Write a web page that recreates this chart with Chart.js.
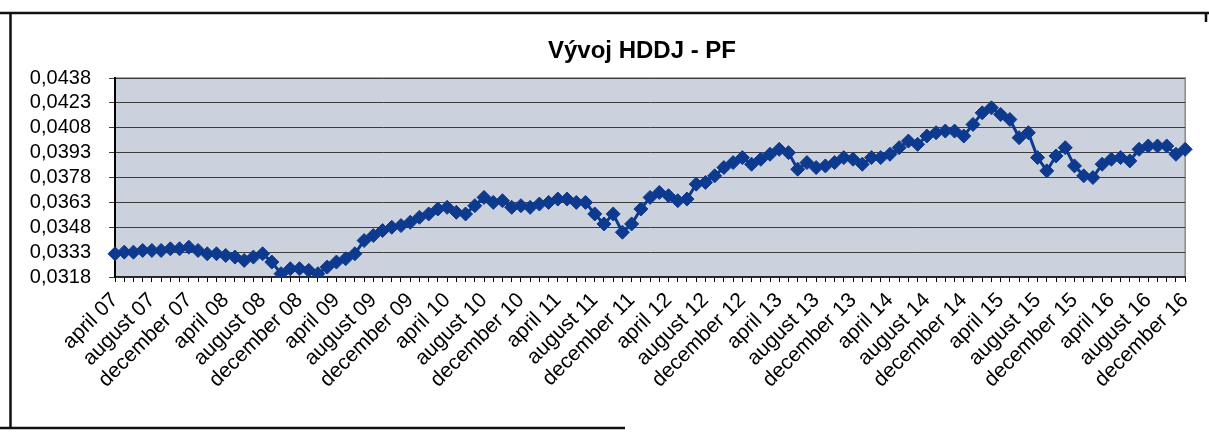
<!DOCTYPE html>
<html>
<head>
<meta charset="utf-8">
<script src="https://cdn.jsdelivr.net/npm/chart.js@4.4.1/dist/chart.umd.min.js"></script>
<style>
html,body{margin:0;padding:0;background:#fff;overflow:hidden}
#wrap{position:relative;width:1209px;height:436px}
</style>
</head>
<body>
<div id="wrap"><canvas id="c" width="1209" height="436"></canvas></div>
<script>
// ---- data ----
const chartTitle = 'Vývoj HDDJ - PF';
const monthNames = ['january','february','march','april','may','june','july','august','september','october','november','december'];
const firstMonthIndex = 3;   // april
const firstYear = 7;         // 2007
const hddj = [
  0.0332,0.0333,0.0333,0.0334,0.0334,0.0334,0.0335,0.0335,0.0336,0.0334,
  0.0332,0.0332,0.0331,0.0330,0.0328,0.0330,0.0332,0.0327,0.0320,0.0323,
  0.0323,0.0322,0.0320,0.0324,0.0327,0.0329,0.0332,0.0340,0.0343,0.0346,
  0.0348,0.0349,0.0351,0.0354,0.0356,0.0359,0.0360,0.0357,0.0356,0.0361,
  0.0366,0.0363,0.0364,0.0360,0.0361,0.0360,0.0362,0.0363,0.0365,0.0365,
  0.0363,0.0363,0.0356,0.0350,0.0356,0.0345,0.0350,0.0359,0.0366,0.0369,
  0.0367,0.0364,0.0365,0.0374,0.0375,0.0379,0.0384,0.0387,0.0390,0.0386,
  0.0389,0.0392,0.0395,0.0393,0.0383,0.0387,0.0384,0.0385,0.0387,0.0390,
  0.0389,0.0386,0.0390,0.0390,0.0392,0.0396,0.0400,0.0398,0.0403,0.0405,
  0.0406,0.0406,0.0403,0.0410,0.0417,0.0420,0.0416,0.0413,0.0402,0.0405,
  0.0390,0.0382,0.0391,0.0396,0.0385,0.0379,0.0378,0.0386,0.0389,0.0390,
  0.0388,0.0395,0.0397,0.0397,0.0397,0.0392,0.0395
];
const yTickValues = [0.0318,0.0333,0.0348,0.0363,0.0378,0.0393,0.0408,0.0423,0.0438];
const labelEvery = 4;

const categories = hddj.map((_, i) => {
  const m = (firstMonthIndex + i) % 12;
  const y = firstYear + Math.floor((firstMonthIndex + i) / 12);
  return monthNames[m] + ' ' + String(y).padStart(2, '0');
});

const FONT = 'Arial, "Liberation Sans", sans-serif';

const plotBg = {
  id: 'plotBg',
  beforeDraw(chart) {
    const {ctx, chartArea: a} = chart;
    ctx.save();
    ctx.fillStyle = '#cbd2de';
    ctx.fillRect(a.left, a.top, a.right - a.left, a.bottom - a.top);
    ctx.strokeStyle = '#8a8a8a';
    ctx.lineWidth = 1.5;
    ctx.strokeRect(a.left, a.top, a.right - a.left, a.bottom - a.top);
    ctx.restore();
  }
};
const titleAndFrame = {
  id: 'titleAndFrame',
  afterDraw(chart) {
    const ctx = chart.ctx;
    ctx.save();
    ctx.fillStyle = '#000';
    ctx.font = 'bold 24px ' + FONT;
    ctx.textAlign = 'center';
    ctx.textBaseline = 'alphabetic';
    ctx.fillText(chartTitle, 642, 58);
    ctx.strokeStyle = '#111';
    ctx.lineWidth = 2.5;
    ctx.beginPath();
    ctx.moveTo(0, 13); ctx.lineTo(1209, 13);
    ctx.moveTo(10.5, 13); ctx.lineTo(10.5, 429);
    ctx.moveTo(0, 428); ctx.lineTo(625, 428);
    ctx.moveTo(1206, 13); ctx.lineTo(1206, 22);
    ctx.stroke();
    ctx.restore();
  }
};

new Chart(document.getElementById('c'), {
  type: 'line',
  data: {
    labels: categories,
    datasets: [{
      data: hddj,
      borderColor: '#0d3a8e',
      backgroundColor: '#0d3a8e',
      borderWidth: 3,
      pointStyle: 'rectRot',
      pointRadius: 7,
      pointBorderWidth: 1,
      pointBackgroundColor: '#0d3a8e',
      pointBorderColor: '#0d3a8e',
      tension: 0,
      fill: false
    }]
  },
  options: {
    responsive: false,
    animation: false,
    devicePixelRatio: 1,
    layout: {padding: {left: 0, right: 16, top: 78, bottom: 0}},
    plugins: {
      legend: {display: false},
      tooltip: {enabled: false},
      title: {display: false}
    },
    scales: {
      x: {
        type: 'category',
        offset: false,
        grid: {drawOnChartArea: false, drawTicks: true, tickLength: 5, tickColor: '#000', tickWidth: 1},
        border: {display: true, color: '#222', width: 1.5},
        ticks: {
          autoSkip: false, maxRotation: 45, minRotation: 45, padding: 6,
          color: '#000', font: {family: FONT, size: 21},
          callback: (v, i) => (i % labelEvery === 0 ? categories[i] : '')
        },
        afterFit: (s) => { s.height = 159; }
      },
      y: {
        min: yTickValues[0],
        max: yTickValues[yTickValues.length - 1],
        afterBuildTicks: (s) => { s.ticks = yTickValues.map(v => ({value: v})); },
        grid: {color: '#3c3c3c', lineWidth: 1, tickLength: 6, tickColor: '#3c3c3c'},
        border: {display: true, color: '#000', width: 2},
        ticks: {
          autoSkip: false,
          padding: 18, color: '#000', font: {family: FONT, size: 20},
          callback: (v) => Number(v).toFixed(4).replace('.', ',')
        },
        afterFit: (s) => { s.width = 115; }
      }
    }
  },
  plugins: [plotBg, titleAndFrame]
});
</script>
</body>
</html>
